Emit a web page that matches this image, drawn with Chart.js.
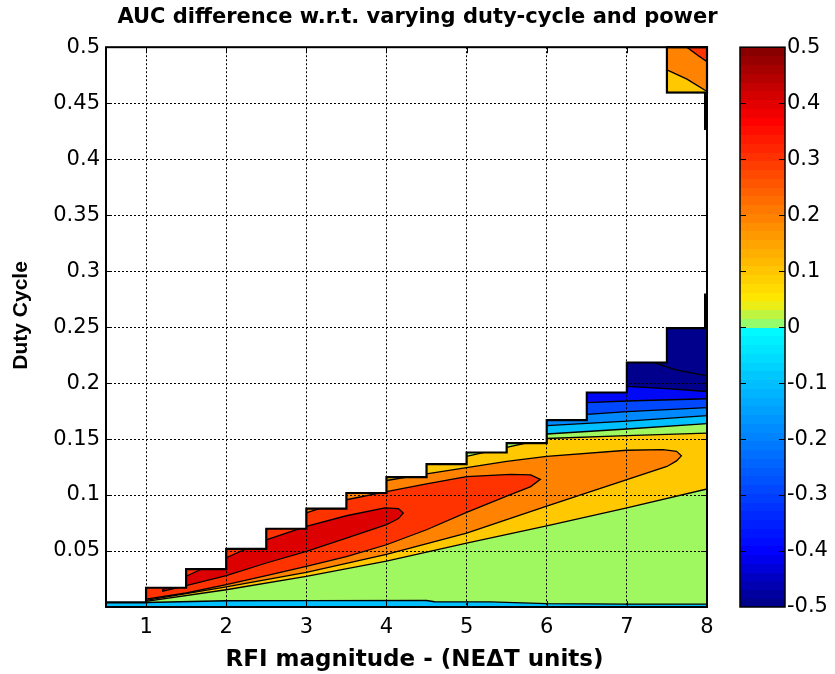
<!DOCTYPE html>
<html>
<head>
<meta charset="utf-8">
<script src="https://cdn.jsdelivr.net/npm/chart.js@4.4.1/dist/chart.umd.min.js"></script>
<style>
  html, body { margin: 0; padding: 0; background: #fff; }
  #wrap { width: 835px; height: 674px; }
</style>
</head>
<body>
<div id="wrap"><canvas id="auc" width="835" height="674"></canvas></div>
<script>
const FONT = 'Arial, "Liberation Sans", Helvetica, sans-serif';
const WIDE = '"DejaVu Sans", Verdana, sans-serif';

// Valid data domain: RFI column edges and highest duty cycle computed in each column
const rfiEdges = [0.5, 1, 1.5, 2, 2.5, 3, 3.5, 4, 4.5, 5, 5.5, 6, 6.5, 7, 7.5, 8];
const dutyTop = [0.0041, 0.0172, 0.0339, 0.0520, 0.0699, 0.0878, 0.1018, 0.1160,
                 0.1277, 0.1380, 0.1464, 0.1670, 0.1916, 0.2184, 0.2490];
// isolated block of valid values at the top right
const patchRfi = [7.5, 8];
const patchDuty = [0.4595, 0.5];
const rightSlivers = [[0.2490, 0.2800], [0.4260, 0.4595]];

// Contour regions (AUC >= level, or AUC < level for negatives)
const geq0X = [1.0, 2.0, 3.0, 4.5, 4.6, 5.3, 6.0, 7.0, 8.0, 8.3, 8.3, 8.0, 7.0, 6.0, 5.5, 5.0, 4.0, 3.0, 2.0, 1.0];
const geq0Y = [0.0040, 0.0056, 0.0057, 0.0058, 0.0047, 0.0045, 0.0030, 0.0026, 0.0025, 0.0025,
               0.1650, 0.1637, 0.1590, 0.1545, 0.1510, 0.1470, 0.1300, 0.1100, 0.0800, 0.0500];

const geq1X = [1.0, 2.0, 3.0, 4.0, 5.0, 6.0, 7.0, 8.0, 8.3, 8.3, 8.0, 7.0, 6.0, 5.5, 5.0, 4.5, 4.0, 3.0, 2.0, 1.0];
const geq1Y = [0.0050, 0.0154, 0.0273, 0.0410, 0.0570, 0.0725, 0.0885, 0.1054, 0.1100,
               0.1560, 0.1553, 0.1530, 0.1505, 0.1425, 0.1345, 0.1285, 0.1200, 0.1020, 0.0750, 0.0450];

const geq2X = [1.0, 2.0, 3.0, 4.0, 5.0, 6.0, 7.0, 7.5, 7.62, 7.68, 7.62, 7.45, 7.0, 6.0, 5.5, 5.0, 4.5, 4.0, 3.5, 3.0, 2.0, 1.0];
const geq2Y = [0.0060, 0.0180, 0.0310, 0.0470, 0.0660, 0.0900, 0.1137, 0.1255, 0.1305, 0.1350,
               0.1390, 0.1405, 0.1400, 0.1345, 0.1300, 0.1245, 0.1190, 0.1130, 0.1040, 0.0940, 0.0700, 0.0400];

const geq3X = [1.0, 1.5, 2.0, 2.5, 3.0, 3.5, 4.0, 4.5, 5.0, 5.5, 5.8, 5.92, 5.8, 5.55, 5.0, 4.5, 4.0, 3.5, 3.0, 2.5, 2.0, 1.5, 1.0];
const geq3Y = [0.0070, 0.0125, 0.0200, 0.0280, 0.0363, 0.0450, 0.0556, 0.0690, 0.0845, 0.0990, 0.1075, 0.1140,
               0.1180, 0.1185, 0.1165, 0.1100, 0.1030, 0.0958, 0.0840, 0.0690, 0.0527, 0.0360, 0.0200];

const geq4X = [1.2, 1.5, 2.0, 2.5, 3.0, 3.5, 4.0, 4.15, 4.21, 4.15, 3.98, 3.5, 3.0, 2.5, 2.0, 1.5, 1.2];
const geq4Y = [0.0140, 0.0190, 0.0280, 0.0393, 0.0497, 0.0616, 0.0735, 0.0790, 0.0840,
               0.0878, 0.0885, 0.0815, 0.0720, 0.0600, 0.0440, 0.0275, 0.0150];

const lt1X = [5.3, 6.0, 7.0, 8.0, 8.3, 8.3, 5.3];
const lt1Y = [0.1560, 0.1620, 0.1660, 0.1710, 0.1720, 0.3000, 0.3000];
const lt2X = [5.8, 6.0, 6.5, 7.0, 8.0, 8.3, 8.3, 5.8];
const lt2Y = [0.1680, 0.1690, 0.1720, 0.1745, 0.1780, 0.1790, 0.3000, 0.3000];
const lt3X = [6.3, 6.5, 7.0, 8.0, 8.3, 8.3, 6.3];
const lt3Y = [0.1800, 0.1825, 0.1840, 0.1860, 0.1870, 0.3000, 0.3000];
const lt4X = [6.4, 6.5, 7.0, 7.5, 8.0, 8.3, 8.3, 6.4];
const lt4Y = [0.1990, 0.1980, 0.1970, 0.1950, 0.1925, 0.1920, 0.3000, 0.3000];
const lt5X = [7.2, 7.33, 7.6, 8.0, 8.3, 8.3, 7.2];
const lt5Y = [0.2220, 0.2184, 0.2120, 0.2065, 0.2050, 0.3000, 0.3000];

const topGeq1X = [7.4, 8.1, 8.1, 7.4];
const topGeq1Y = [0.4500, 0.4500, 0.5200, 0.5200];
const topGeq2X = [7.4, 7.5, 7.75, 8.0, 8.1, 8.1, 7.4];
const topGeq2Y = [0.4835, 0.4797, 0.4715, 0.4604, 0.4560, 0.5200, 0.5200];
const topGeq3X = [7.7, 7.74, 7.9, 8.0, 8.1, 8.1, 7.7];
const topGeq3Y = [0.5030, 0.5005, 0.4920, 0.4870, 0.4820, 0.5200, 0.5200];

// Fill colours of the contour bands
const bandBelowZero = '#00C0FF';
const regions = [
  { name: '>= 0',    x: geq0X, y: geq0Y, color: '#A0F860' },
  { name: '>= 0.1',  x: geq1X, y: geq1Y, color: '#FFC800' },
  { name: '>= 0.2',  x: geq2X, y: geq2Y, color: '#FF8200' },
  { name: '>= 0.3',  x: geq3X, y: geq3Y, color: '#FF3300' },
  { name: '>= 0.4',  x: geq4X, y: geq4Y, color: '#DD0000' },
  { name: '< -0.1',  x: lt1X,  y: lt1Y,  color: '#0088FF' },
  { name: '< -0.2',  x: lt2X,  y: lt2Y,  color: '#0048FF' },
  { name: '< -0.3',  x: lt3X,  y: lt3Y,  color: '#0008F5' },
  { name: '< -0.4',  x: lt4X,  y: lt4Y,  color: '#00008C' },
  { name: '< -0.5',  x: lt5X,  y: lt5Y,  color: '#00008C' },
  { name: 'top >= 0.1', x: topGeq1X, y: topGeq1Y, color: '#FFC800' },
  { name: 'top >= 0.2', x: topGeq2X, y: topGeq2Y, color: '#FF8200' },
  { name: 'top >= 0.3', x: topGeq3X, y: topGeq3Y, color: '#FF3300' }
];

// Colour bar stops (value, rgb)
const cmapStops = [
  [-0.5, [0, 0, 128]], [-0.4, [0, 0, 255]], [-0.0001, [0, 255, 255]],
  [0.0001, [128, 255, 128]], [0.047, [255, 235, 0]], [0.2, [255, 128, 0]],
  [0.37, [255, 0, 0]], [0.5, [128, 0, 0]]
];

function cmap(v) {
  for (let i = 0; i < cmapStops.length - 1; i++) {
    const [a, ca] = cmapStops[i];
    const [b, cb] = cmapStops[i + 1];
    if (v >= a && v <= b) {
      const t = (v - a) / (b - a);
      const c = ca.map((k, j) => Math.round(k + (cb[j] - k) * t));
      return `rgb(${c[0]},${c[1]},${c[2]})`;
    }
  }
  return 'rgb(0,0,0)';
}

const datasets = regions.map(r => ({
  label: r.name,
  data: r.x.map((x, i) => ({ x: x, y: r.y[i] })),
  showLine: true,
  fill: false,
  borderColor: '#000',
  borderWidth: 1.3,
  backgroundColor: r.color,
  pointRadius: 0,
  pointHoverRadius: 0
}));

// Filled contours, clipped to the valid (non-NaN) part of the grid
const contourPlugin = {
  id: 'contourFill',
  beforeDatasetsDraw(chart) {
    const { ctx, chartArea } = chart;
    const xs = chart.scales.x, ys = chart.scales.y;
    ctx.save();
    ctx.beginPath();
    ctx.moveTo(xs.getPixelForValue(rfiEdges[0]), ys.getPixelForValue(0));
    for (let i = 0; i < dutyTop.length; i++) {
      ctx.lineTo(xs.getPixelForValue(rfiEdges[i]), ys.getPixelForValue(dutyTop[i]));
      ctx.lineTo(xs.getPixelForValue(rfiEdges[i + 1]), ys.getPixelForValue(dutyTop[i]));
    }
    ctx.lineTo(xs.getPixelForValue(rfiEdges[rfiEdges.length - 1]), ys.getPixelForValue(0));
    ctx.closePath();
    const px0 = xs.getPixelForValue(patchRfi[0]), px1 = xs.getPixelForValue(patchRfi[1]);
    const py0 = ys.getPixelForValue(patchDuty[0]), py1 = ys.getPixelForValue(patchDuty[1]);
    ctx.rect(px0, py1, px1 - px0, py0 - py1);
    ctx.clip();

    ctx.fillStyle = bandBelowZero;
    ctx.fillRect(chartArea.left, chartArea.top, chartArea.width, chartArea.height);

    chart.data.datasets.forEach((ds, i) => {
      const pts = chart.getDatasetMeta(i).data;
      ctx.beginPath();
      pts.forEach((p, j) => (j ? ctx.lineTo(p.x, p.y) : ctx.moveTo(p.x, p.y)));
      ctx.closePath();
      ctx.fillStyle = ds.backgroundColor;
      ctx.fill();
    });
  },
  afterDatasetsDraw(chart) {
    const { ctx } = chart;
    const xs = chart.scales.x, ys = chart.scales.y;
    ctx.restore();

    // NaN boundary
    ctx.save();
    ctx.strokeStyle = '#000';
    ctx.lineWidth = 2.2;
    ctx.beginPath();
    ctx.moveTo(xs.getPixelForValue(rfiEdges[0]), ys.getPixelForValue(dutyTop[0]));
    for (let i = 0; i < dutyTop.length; i++) {
      ctx.lineTo(xs.getPixelForValue(rfiEdges[i + 1]), ys.getPixelForValue(dutyTop[i]));
      if (i + 1 < dutyTop.length) {
        ctx.lineTo(xs.getPixelForValue(rfiEdges[i + 1]), ys.getPixelForValue(dutyTop[i + 1]));
      }
    }
    ctx.stroke();
    const px0 = xs.getPixelForValue(patchRfi[0]), px1 = xs.getPixelForValue(patchRfi[1]);
    const py0 = ys.getPixelForValue(patchDuty[0]), py1 = ys.getPixelForValue(patchDuty[1]);
    ctx.strokeRect(px0, py1, px1 - px0, py0 - py1);
    ctx.lineWidth = 4;
    rightSlivers.forEach(([a, b]) => {
      ctx.beginPath();
      ctx.moveTo(px1 - 1, ys.getPixelForValue(a));
      ctx.lineTo(px1 - 1, ys.getPixelForValue(b));
      ctx.stroke();
    });
    ctx.restore();
  },
  afterDraw(chart) {
    const { ctx, chartArea: a } = chart;
    const xs = chart.scales.x, ys = chart.scales.y, cb = chart.scales.cb;
    ctx.save();
    ctx.strokeStyle = '#000';

    // tick marks on all four sides
    ctx.lineWidth = 1;
    ctx.beginPath();
    xs.ticks.forEach(t => {
      const p = Math.round(xs.getPixelForValue(t.value)) + 0.5;
      ctx.moveTo(p, a.bottom); ctx.lineTo(p, a.bottom - 6);
      ctx.moveTo(p, a.top); ctx.lineTo(p, a.top + 6);
    });
    ys.ticks.forEach(t => {
      const p = Math.round(ys.getPixelForValue(t.value)) + 0.5;
      ctx.moveTo(a.left, p); ctx.lineTo(a.left + 6, p);
      ctx.moveTo(a.right, p); ctx.lineTo(a.right - 6, p);
    });
    ctx.stroke();

    // axes box
    ctx.lineWidth = 2;
    ctx.strokeRect(a.left, a.top, a.right - a.left, a.bottom - a.top);

    // colour bar
    const left = a.right + 33, w = 45, n = 64;
    for (let k = 0; k < n; k++) {
      const v0 = -0.5 + k / n, v1 = -0.5 + (k + 1) / n;
      const yTop = Math.floor(cb.getPixelForValue(v1));
      const yBot = Math.ceil(cb.getPixelForValue(v0));
      ctx.fillStyle = cmap((v0 + v1) / 2);
      ctx.fillRect(left, yTop, w, yBot - yTop);
    }
    ctx.lineWidth = 1.5;
    const cTop = cb.getPixelForValue(0.5), cBot = cb.getPixelForValue(-0.5);
    ctx.strokeRect(left, cTop, w, cBot - cTop);
    ctx.lineWidth = 1.2;
    ctx.beginPath();
    cb.ticks.forEach(t => {
      if (Math.abs(Math.abs(t.value) - 0.5) < 1e-6) return;
      const p = Math.round(cb.getPixelForValue(t.value)) + 0.5;
      ctx.moveTo(left, p); ctx.lineTo(left + 6, p);
      ctx.moveTo(left + w, p); ctx.lineTo(left + w - 6, p);
    });
    ctx.stroke();
    ctx.restore();
  }
};

const tickFont = { family: WIDE, size: 21 };

new Chart(document.getElementById('auc'), {
  type: 'scatter',
  data: { datasets: datasets },
  options: {
    responsive: false,
    animation: false,
    events: [],
    layout: { padding: 0 },
    plugins: {
      legend: { display: false },
      tooltip: { enabled: false },
      title: {
        display: true,
        text: 'AUC difference w.r.t. varying duty-cycle and power',
        color: '#000',
        font: { family: WIDE, size: 21, weight: 'bold' },
        padding: { top: 5, bottom: 17 }
      }
    },
    scales: {
      x: {
        type: 'linear',
        min: 0.5,
        max: 8,
        afterFit: s => { s.height = 67; },
        ticks: { stepSize: 1, includeBounds: false, color: '#000', font: tickFont, padding: 8, maxRotation: 0,
                 callback: v => String(v) },
        grid: { color: '#000', lineWidth: 1, drawTicks: false, z: 1 },
        border: { display: false, dash: [2, 2] },
        title: { display: true, text: '  RFI magnitude - (NE\u0394T units)', color: '#000',
                 font: { family: WIDE, size: 23, weight: 'bold' }, padding: { top: 0, bottom: 0 } }
      },
      y: {
        type: 'linear',
        min: 0,
        max: 0.5,
        afterFit: s => { s.width = 106; },
        ticks: { stepSize: 0.05, autoSkip: false, color: '#000', font: tickFont, padding: 6,
                 callback: v => (Math.abs(v) < 1e-9 ? '' : String(parseFloat(v.toFixed(2)))) },
        grid: { color: '#000', lineWidth: 1, drawTicks: false, z: 1 },
        border: { display: false, dash: [2, 2] },
        title: { display: true, text: '    Duty Cycle', color: '#000',
                 font: { family: FONT, size: 21, weight: 'bold' }, padding: { top: 9, bottom: 0 } }
      },
      cb: {
        type: 'linear',
        position: 'right',
        min: -0.5,
        max: 0.5,
        afterFit: s => { s.width = 128; },
        ticks: { stepSize: 0.1, autoSkip: false, color: '#000', font: tickFont, padding: 6,
                 callback: v => String(parseFloat(v.toFixed(1))) },
        grid: { display: false, drawTicks: true, tickLength: 74 },
        border: { display: false }
      }
    }
  },
  plugins: [contourPlugin]
});
</script>
</body>
</html>
